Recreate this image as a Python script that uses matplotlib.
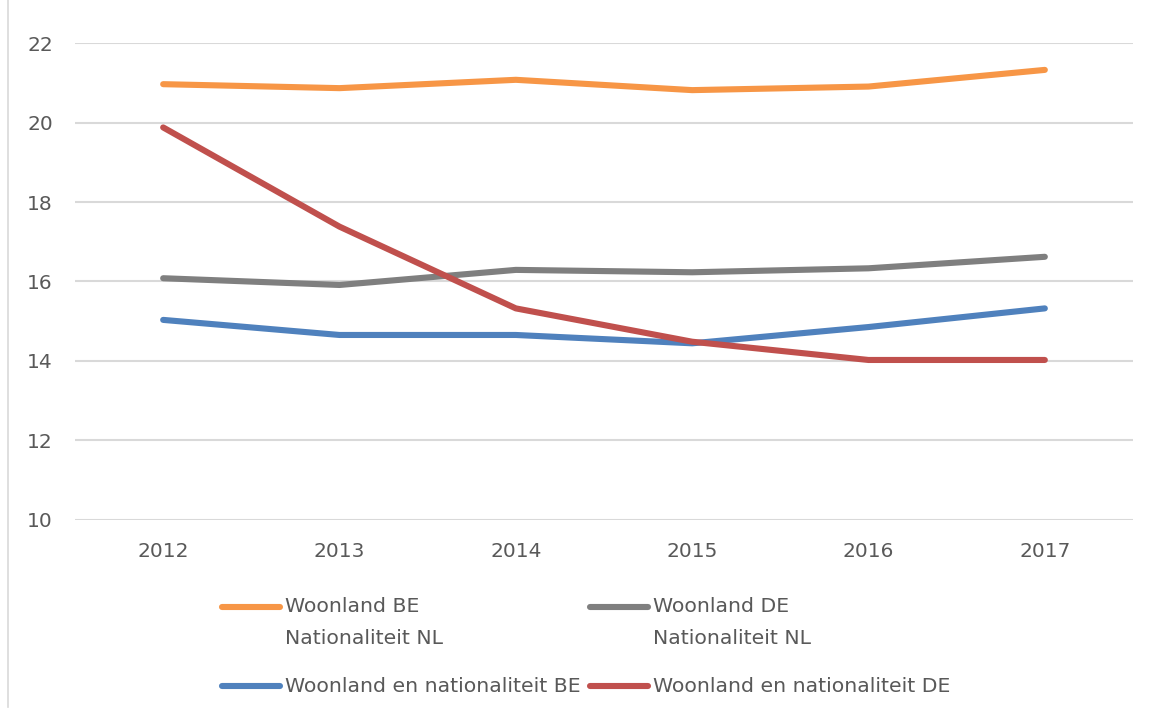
import matplotlib
matplotlib.use("Agg")
import matplotlib.pyplot as plt
from matplotlib.lines import Line2D

years = ["2012", "2013", "2014", "2015", "2016", "2017"]
be_nl = [20.97, 20.87, 21.08, 20.82, 20.91, 21.33]
de_nl = [16.08, 15.91, 16.29, 16.23, 16.33, 16.62]
be_be = [15.03, 14.65, 14.65, 14.44, 14.85, 15.32]
de_de = [19.88, 17.38, 15.32, 14.48, 14.02, 14.02]

labels = ["Woonland BE\nNationaliteit NL", "Woonland DE\nNationaliteit NL",
          "Woonland en nationaliteit BE", "Woonland en nationaliteit DE"]
colors = ["#F79646", "#7F7F7F", "#4F81BD", "#C0504D"]
series = [be_nl, de_nl, be_be, de_de]
yticks = [10, 12, 14, 16, 18, 20, 22]

FONT = ["DejaVu Sans"]
TXT = "#595959"
W, H = 1152, 715

fig = plt.figure(figsize=(W / 100, H / 100), dpi=100)
ax = fig.add_axes([75 / W, 1 - 519.5 / H, (1133 - 75) / W, (519.5 - 43.3) / H])

x = list(range(len(years)))
for vals, c, lab in zip(series, colors, labels):
    ax.plot(x, vals, color=c, lw=4.4, solid_capstyle="round", solid_joinstyle="round",
            label=lab, zorder=3)

ax.set_xlim(-0.5, len(years) - 0.5)
ax.set_ylim(10, 22)
ax.set_yticks(yticks)
ax.set_xticks(x)
ax.set_xticklabels(years)
ax.grid(axis="y", color="#D9D9D9", lw=1.5, zorder=0)
ax.grid(axis="x", visible=False)
for s in ax.spines.values():
    s.set_visible(False)
ax.tick_params(axis="both", length=0, colors=TXT, labelsize=14.5)
ax.tick_params(axis="y", pad=16)
ax.tick_params(axis="x", pad=16)
for t in ax.get_xticklabels() + ax.get_yticklabels():
    t.set_family(FONT)

# left chart-area border
fig.add_artist(Line2D([8 / W, 8 / W], [1 - 707 / H, 1.0], color="#D9D9D9", lw=1.2))

# legend (manual, Excel style)
entries = [(222, 607, 0), (590, 607, 1), (222, 686, 2), (590, 686, 3)]
for (lx, ly, i) in entries:
    fig.add_artist(Line2D([lx / W, (lx + 58) / W], [1 - ly / H, 1 - ly / H],
                          color=colors[i], lw=4.4, solid_capstyle="round"))
    for k, line in enumerate(labels[i].split("\n")):
        fig.text((lx + 63) / W, 1 - (ly + 31 * k) / H, line, ha="left",
                 va="center", fontsize=14.7, color=TXT, family=FONT)

fig.savefig("out.png", dpi=100)
